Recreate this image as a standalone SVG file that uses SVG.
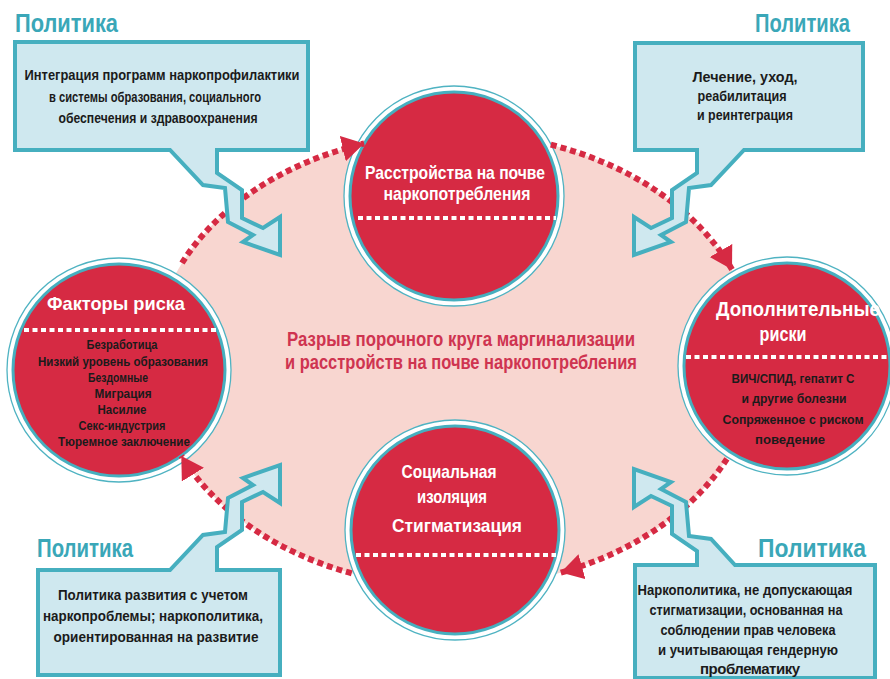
<svg xmlns="http://www.w3.org/2000/svg" width="890" height="679" viewBox="0 0 890 679">
<defs>
<style>
text{font-family:"Liberation Sans Narrow","Liberation Sans",Arial,sans-serif;font-weight:bold;}
.pol{font-size:26px;fill:#3aa7b8;}
.cbox{fill:#cfe8ef;stroke:#46afbf;stroke-width:4;stroke-linejoin:miter;}
.ct{font-size:15px;fill:#1b1b1b;text-anchor:middle;}
.ring{fill:#ffffff;stroke:#4fb3c2;stroke-width:1.3;}
.disk{fill:#d62a43;stroke:#46afbf;stroke-width:3;}
.tt{fill:#ffffff;text-anchor:middle;}
.lt{font-size:13px;fill:#1b1b1b;text-anchor:middle;}
.sep{stroke:#ffffff;stroke-width:4;stroke-dasharray:5 3.5;fill:none;}
.conn{fill:none;stroke:#d62a43;stroke-width:6;stroke-dasharray:6 4;marker-end:url(#ah);}
.mid{font-size:20px;fill:#cf3450;text-anchor:middle;}
</style>
<marker id="ah" markerUnits="userSpaceOnUse" markerWidth="26" markerHeight="28" refX="22" refY="13" orient="auto">
<path d="M0,0 L22,13 L0,26 Z" fill="#d62a43"/>
</marker>
</defs>
<rect x="0" y="0" width="890" height="679" fill="#ffffff"/>
<ellipse id="background" cx="455" cy="360" rx="302" ry="227" fill="#f8d6d0"/>
<text class="mid" x="461" y="346" textLength="348" lengthAdjust="spacingAndGlyphs">Разрыв порочного круга маргинализации</text>
<text class="mid" x="461" y="369" textLength="352" lengthAdjust="spacingAndGlyphs">и расстройств на почве наркопотребления</text>

<g id="node-top">
<circle class="ring" cx="454" cy="196" r="110"/>
<circle class="disk" cx="454" cy="196" r="104"/>
<text class="tt" font-size="18.5" x="455" y="179" textLength="180" lengthAdjust="spacingAndGlyphs">Расстройства на почве</text>
<text class="tt" font-size="18.5" x="457" y="200" textLength="147" lengthAdjust="spacingAndGlyphs">наркопотребления</text>
<line class="sep" x1="358" y1="218" x2="556" y2="218"/>
</g>

<g id="node-left">
<circle class="ring" cx="119" cy="370" r="112"/>
<circle class="disk" cx="119" cy="370" r="106"/>
<text class="tt" font-size="19" x="116" y="310" textLength="138" lengthAdjust="spacingAndGlyphs">Факторы риска</text>
<line class="sep" x1="24" y1="330" x2="222" y2="330"/>
<text class="lt" x="122" y="349" textLength="71" lengthAdjust="spacingAndGlyphs">Безработица</text>
<text class="lt" x="123" y="366" textLength="170" lengthAdjust="spacingAndGlyphs">Низкий уровень образования</text>
<text class="lt" x="118" y="382" textLength="60" lengthAdjust="spacingAndGlyphs">Бездомные</text>
<text class="lt" x="123" y="398" textLength="57" lengthAdjust="spacingAndGlyphs">Миграция</text>
<text class="lt" x="122" y="414" textLength="49" lengthAdjust="spacingAndGlyphs">Насилие</text>
<text class="lt" x="122" y="430" textLength="87" lengthAdjust="spacingAndGlyphs">Секс-индустрия</text>
<text class="lt" x="124" y="446" textLength="132" lengthAdjust="spacingAndGlyphs">Тюремное заключение</text>
</g>

<g id="node-right">
<circle class="ring" cx="787" cy="366" r="109"/>
<circle class="disk" cx="787" cy="366" r="103"/>
<text class="tt" font-size="20" x="798" y="316" textLength="164" lengthAdjust="spacingAndGlyphs">Дополнительные</text>
<text class="tt" font-size="20" x="783" y="341" textLength="47" lengthAdjust="spacingAndGlyphs">риски</text>
<line class="sep" x1="686" y1="357" x2="890" y2="357"/>
<text class="lt" x="793" y="383" textLength="123" lengthAdjust="spacingAndGlyphs">ВИЧ/СПИД, гепатит С</text>
<text class="lt" x="794" y="403" textLength="105" lengthAdjust="spacingAndGlyphs">и другие болезни</text>
<text class="lt" x="793" y="424" textLength="141" lengthAdjust="spacingAndGlyphs">Сопряженное с риском</text>
<text class="lt" x="790" y="444" textLength="70" lengthAdjust="spacingAndGlyphs">поведение</text>
</g>

<g id="node-bottom">
<circle class="ring" cx="455" cy="530" r="110"/>
<circle class="disk" cx="455" cy="530" r="104"/>
<text class="tt" font-size="19" x="449" y="478" textLength="95" lengthAdjust="spacingAndGlyphs">Социальная</text>
<text class="tt" font-size="19" x="452" y="503" textLength="70" lengthAdjust="spacingAndGlyphs">изоляция</text>
<text class="tt" font-size="19" x="457" y="532" textLength="130" lengthAdjust="spacingAndGlyphs">Стигматизация</text>
<line class="sep" x1="356" y1="555" x2="556" y2="555"/>
</g>

<g id="connectors">
<path class="conn" d="M182,263 A302,227 0 0 1 364.2,143.5"/>
<path class="conn" d="M550.8,144.7 A302,227 0 0 1 732,269.5"/>
<path class="conn" d="M726.9,458.8 A302,227 0 0 1 560.8,572.6"/>
<path class="conn" d="M351.7,573.3 A302,227 0 0 1 181.3,455.9"/>
</g>

<g id="policy-top-left">
<text class="pol" x="15" y="32" textLength="103" lengthAdjust="spacingAndGlyphs">Политика</text>
<path class="cbox" d="M15,42 H308 V150 H217 V173 L242,190 V218 L263,228 L280,217 V255 L243,242 L253,235 L228,222 L225,188 L203,185 L170,150 H15 Z"/>
<text class="ct" x="162" y="80" textLength="275" lengthAdjust="spacingAndGlyphs">Интеграция программ наркопрофилактики</text>
<text class="ct" x="155" y="102" textLength="212" lengthAdjust="spacingAndGlyphs">в системы образования, социального</text>
<text class="ct" x="158" y="123" textLength="199" lengthAdjust="spacingAndGlyphs">обеспечения и здравоохранения</text>
</g>

<g id="policy-top-right">
<text class="pol" x="755" y="32" textLength="95" lengthAdjust="spacingAndGlyphs">Политика</text>
<path class="cbox" d="M635,43 H863 V150 H744 L711,185 L689,188 L686,222 L661,235 L671,242 L634,255 V217 L651,228 L672,218 V190 L697,173 V150 H635 Z"/>
<text class="ct" x="745" y="82" textLength="105" lengthAdjust="spacingAndGlyphs">Лечение, уход,</text>
<text class="ct" x="742" y="101" textLength="89" lengthAdjust="spacingAndGlyphs">реабилитация</text>
<text class="ct" x="745" y="120" textLength="96" lengthAdjust="spacingAndGlyphs">и реинтеграция</text>
</g>

<g id="policy-bottom-left">
<text class="pol" x="37" y="557" textLength="96" lengthAdjust="spacingAndGlyphs">Политика</text>
<path class="cbox" d="M38,570 H170 L203,535 L225,532 L228,498 L253,485 L243,478 L280,465 V503 L263,492 L242,502 V530 L217,547 V570 H280 V675 H38 Z"/>
<text class="ct" x="153" y="600" textLength="190" lengthAdjust="spacingAndGlyphs">Политика развития с учетом</text>
<text class="ct" x="153" y="621" textLength="220" lengthAdjust="spacingAndGlyphs">наркопроблемы; наркополитика,</text>
<text class="ct" x="156" y="642" textLength="205" lengthAdjust="spacingAndGlyphs">ориентированная на развитие</text>
</g>

<g id="policy-bottom-right">
<text class="pol" x="758" y="557" textLength="108" lengthAdjust="spacingAndGlyphs">Политика</text>
<path class="cbox" d="M635,565 H697 V551 L672,534 V506 L651,496 L634,507 V469 L671,482 L661,489 L686,502 L689,536 L711,539 L735,565 H875 V678 H635 Z"/>
<text class="ct" x="745" y="595" textLength="215" lengthAdjust="spacingAndGlyphs">Наркополитика, не допускающая</text>
<text class="ct" x="746" y="615" textLength="193" lengthAdjust="spacingAndGlyphs">стигматизации, основанная на</text>
<text class="ct" x="748" y="635" textLength="175" lengthAdjust="spacingAndGlyphs">соблюдении прав человека</text>
<text class="ct" x="748" y="655" textLength="180" lengthAdjust="spacingAndGlyphs">и учитывающая гендерную</text>
<text class="ct" x="750" y="674" textLength="100" lengthAdjust="spacing">проблематику</text>
</g>
</svg>
